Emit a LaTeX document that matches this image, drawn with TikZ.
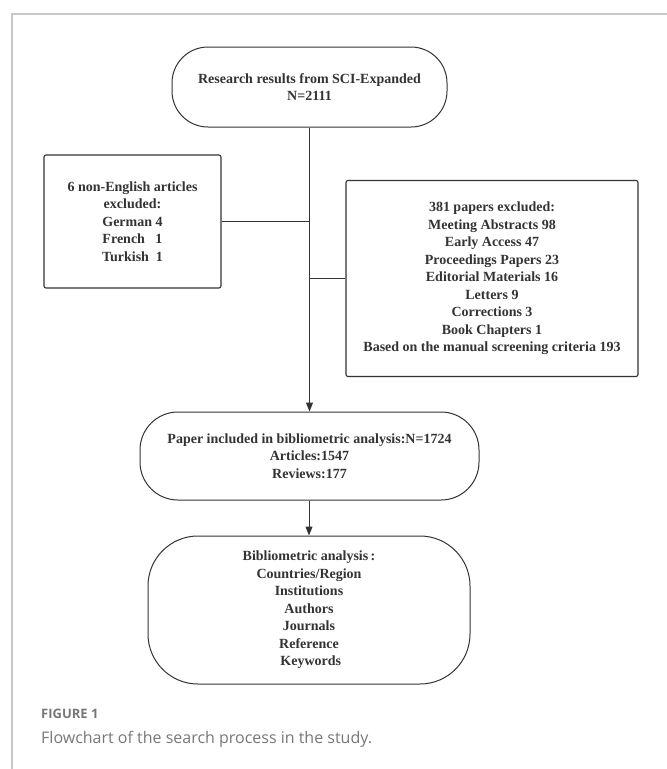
\documentclass[tikz,border=0pt]{standalone}
\usepackage{fontspec}
\setmainfont{Liberation Serif}
\newfontfamily\capfont{Open Sans}
\usepackage{tikz}
\usetikzlibrary{arrows.meta}

\definecolor{inkgray}{HTML}{333333}
\definecolor{framegray}{HTML}{C8C8C8}
\definecolor{capgray}{HTML}{777777}

\begin{document}
\begin{tikzpicture}[x=1pt, y=-1pt,
    every node/.style={font=\fontsize{14}{17.5}\selectfont\bfseries, text=inkgray, align=center, inner sep=0pt},
    termbox/.style={draw=inkgray, line width=1pt, fill=white},
    notebox/.style={draw=inkgray, line width=1.1pt, rounded corners=2pt},
    link/.style={draw=inkgray, line width=1pt}]
    \useasboundingbox (0,0) rectangle (667,769);

    % frame of the figure panel
    \draw[framegray, line width=1.2pt] (667,14) -- (12,14) -- (12,769);

    % main stages
    \node[termbox, rounded corners=36pt, minimum width=275pt, minimum height=80pt] (search) at (309.5,87)
        {Research results from SCI-Expanded\\N=2111};
    \node[termbox, rounded corners=38pt, minimum width=339pt, minimum height=88pt] (included) at (309.5,456)
        {Paper included in bibliometric analysis:N=1724\\Articles:1547\\Reviews:177};
    \node[termbox, rounded corners=50pt, minimum width=322pt, minimum height=148pt] (analysis) at (309,610)
        {Bibliometric analysis\,:\\Countries/Region\\Institutions\\Authors\\Journals\\Reference\\\ Keywords};

    % exclusions
    \node[notebox, minimum width=177pt, minimum height=133pt] (language) at (132.5,221.5)
        {6 non-English articles\\excluded:\\German 4\\French \ \ 1\\Turkish \ 1};
    \node[notebox, minimum width=292pt, minimum height=196pt] (papers) at (492,278.5)
        {381 papers excluded:\\Meeting Abstracts 98\\Early Access 47\\Proceedings Papers 23\\Editorial Materials 16\\Letters 9\\Corrections 3\\Book Chapters 1\\Based on the manual screening criteria 193};

    % connectors
    \coordinate (joinL) at (309,221.5);
    \coordinate (joinR) at (309,278.5);
    \draw[link, -{Triangle[length=9pt, width=7pt]}] (search.south -| included.north) -- (included.north);
    \draw[link] (language.east) -- (joinL);
    \draw[link] (joinR) -- (papers.west);
    \draw[link, -{Triangle[length=9pt, width=7pt]}] (included.south -| analysis.north) -- (analysis.north);

    % caption
    \node[anchor=base west, font=\capfont\bfseries\fontsize{13}{16}\selectfont, text=capgray] (fignum) at (41,718) {FIGURE 1};
    \node[anchor=base west, font=\capfont\fontsize{16}{20}\selectfont, text=capgray] (figcap) at (41,743) {Flowchart of the search process in the study.};
\end{tikzpicture}
\end{document}
